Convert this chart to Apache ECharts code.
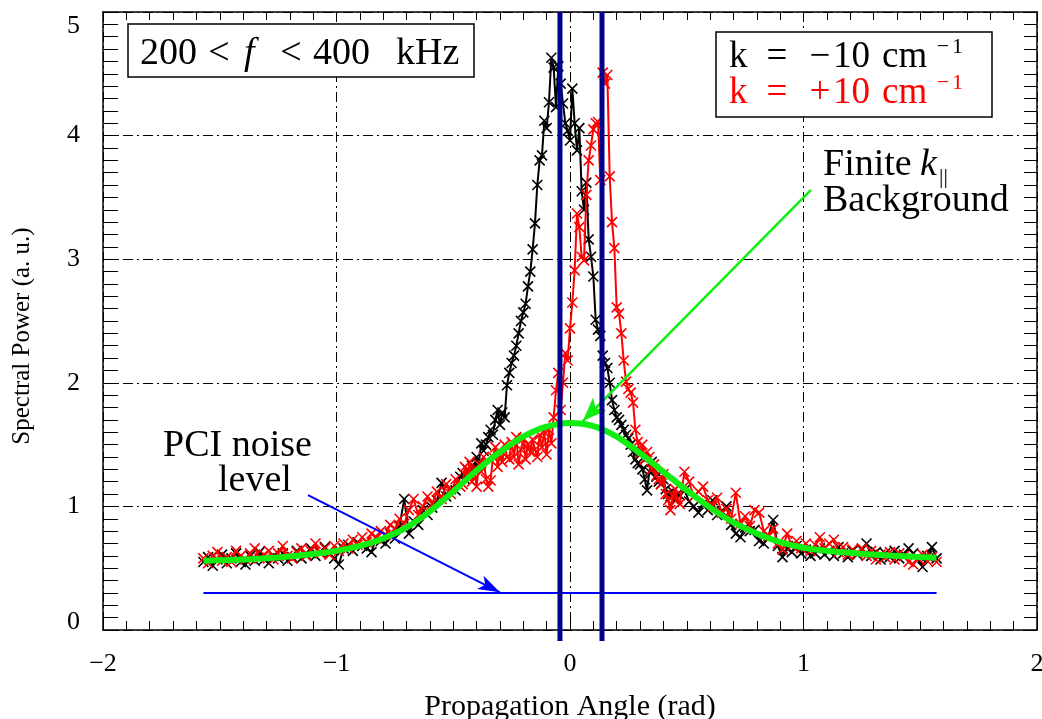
<!DOCTYPE html>
<html>
<head>
<meta charset="utf-8">
<script src="https://cdn.jsdelivr.net/npm/echarts@6/dist/echarts.min.js"></script>
<style>
html, body { margin: 0; padding: 0; background: #fff; }
#chart { width: 1042px; height: 719px; }
</style>
</head>
<body>
<div id="chart"></div>
<script>
// Propagation angle samples (rad), shared by both wavenumber spectra
const angle = [
  -1.57,-1.55,-1.53,-1.51,-1.49,-1.47,-1.45,-1.43,-1.41,-1.39,
  -1.37,-1.35,-1.33,-1.31,-1.29,-1.27,-1.25,-1.23,-1.21,-1.19,
  -1.17,-1.15,-1.13,-1.11,-1.09,-1.07,-1.05,-1.03,-1.01,-0.99,
  -0.97,-0.95,-0.93,-0.91,-0.89,-0.87,-0.85,-0.83,-0.81,-0.79,
  -0.77,-0.75,-0.73,-0.71,-0.69,-0.67,-0.65,-0.63,-0.61,-0.59,
  -0.57,-0.55,-0.53,-0.51,-0.49,-0.47,
  -0.46,-0.45,-0.44,-0.43,-0.42,-0.41,-0.40,-0.39,-0.38,-0.37,
  -0.36,-0.35,-0.34,-0.33,-0.32,-0.31,-0.30,-0.29,-0.28,-0.27,
  -0.26,-0.25,-0.24,-0.23,-0.22,-0.21,-0.20,-0.19,-0.18,-0.17,
  -0.16,-0.15,-0.14,-0.13,-0.12,-0.11,-0.10,-0.09,-0.08,-0.07,
  -0.06,-0.05,-0.04,-0.03,-0.02,-0.01,0.00,0.01,0.02,0.03,
  0.04,0.05,0.06,0.07,0.08,0.09,0.10,0.11,0.12,0.13,
  0.14,0.15,0.16,0.17,0.18,0.19,0.20,0.21,0.22,0.23,
  0.24,0.25,0.26,0.27,0.28,0.29,0.30,0.31,0.32,0.33,
  0.34,0.35,0.36,0.37,0.38,0.39,0.40,0.41,0.42,0.43,
  0.44,0.45,0.46,
  0.47,0.49,0.51,0.53,0.55,0.57,0.59,0.61,0.63,0.65,
  0.67,0.69,0.71,0.73,0.75,0.77,0.79,0.81,0.83,0.85,
  0.87,0.89,0.91,0.93,0.95,0.97,0.99,1.01,1.03,1.05,
  1.07,1.09,1.11,1.13,1.15,1.17,1.19,1.21,1.23,1.25,
  1.27,1.29,1.31,1.33,1.35,1.37,1.39,1.41,1.43,1.45,
  1.47,1.49,1.51,1.53,1.55,1.57
];

// Spectral power, k = -10 cm^-1
const powerKneg = [
  0.55,0.59,0.52,0.57,0.61,0.54,0.58,0.62,0.55,0.53,
  0.60,0.56,0.63,0.57,0.54,0.60,0.58,0.62,0.56,0.59,
  0.64,0.58,0.61,0.66,0.60,0.63,0.67,0.62,0.58,0.53,
  0.66,0.69,0.64,0.71,0.68,0.66,0.63,0.75,0.72,0.70,
  0.78,0.74,0.84,1.06,0.78,0.88,0.85,0.97,0.93,0.99,
  1.05,1.19,1.08,1.14,1.13,1.24,
  1.27,1.22,1.30,1.26,1.33,1.31,1.40,1.36,1.51,1.45,
  1.50,1.56,1.62,1.58,1.70,1.78,1.66,1.76,1.72,1.98,
  2.08,2.16,2.22,2.30,2.40,2.50,2.57,2.64,2.78,2.90,
  3.08,3.29,3.60,3.80,3.84,4.12,4.06,4.27,4.63,4.55,
  4.23,4.56,4.42,4.26,4.10,4.04,3.96,4.38,4.10,3.88,
  4.06,3.55,3.40,3.62,3.16,3.02,2.86,2.51,2.43,2.38,
  2.22,2.16,2.12,2.00,1.86,1.78,1.72,1.70,1.66,1.62,
  1.58,1.55,1.50,1.44,1.38,1.35,1.34,1.30,1.22,1.13,
  1.28,1.36,1.30,1.24,1.20,1.18,1.22,1.14,1.10,1.08,
  1.12,1.05,1.10,
  1.09,1.13,1.04,1.00,0.95,1.02,0.97,1.05,0.93,0.96,
  1.00,0.85,0.78,0.75,0.83,0.80,0.81,0.72,0.70,0.76,
  0.89,0.68,0.59,0.66,0.63,0.68,0.62,0.65,0.60,0.62,
  0.66,0.61,0.64,0.60,0.67,0.62,0.59,0.64,0.61,0.65,
  0.70,0.60,0.63,0.57,0.62,0.59,0.64,0.58,0.61,0.66,
  0.62,0.57,0.51,0.60,0.67,0.58
];

// Spectral power, k = +10 cm^-1
const powerKpos = [
  0.58,0.54,0.60,0.63,0.56,0.59,0.55,0.64,0.60,0.57,
  0.62,0.66,0.58,0.61,0.64,0.57,0.62,0.68,0.60,0.58,
  0.63,0.66,0.60,0.64,0.70,0.62,0.66,0.61,0.68,0.64,
  0.70,0.66,0.73,0.69,0.75,0.71,0.78,0.74,0.80,0.77,
  0.85,0.82,0.90,0.86,0.97,1.06,0.93,1.00,1.08,1.02,
  1.12,1.06,1.18,1.10,1.22,1.16,
  1.18,1.32,1.24,1.36,1.20,1.30,1.16,1.34,1.28,1.40,
  1.22,1.16,1.21,1.40,1.48,1.32,1.42,1.36,1.50,1.40,
  1.38,1.52,1.40,1.56,1.34,1.46,1.55,1.38,1.50,1.44,
  1.54,1.46,1.40,1.58,1.48,1.60,1.42,1.62,1.51,1.72,
  1.94,2.08,1.78,2.00,2.24,2.18,2.44,2.65,2.91,3.37,
  3.26,3.02,2.99,3.52,3.80,3.92,4.05,4.10,4.11,3.64,
  4.51,4.42,4.49,3.67,3.30,3.09,2.61,2.56,2.40,2.18,
  2.01,1.95,1.92,1.84,1.62,1.52,1.43,1.50,1.38,1.44,
  1.40,1.30,1.34,1.25,1.22,1.18,1.26,1.10,1.05,0.97,
  1.08,1.14,1.06,
  1.02,1.28,1.20,1.08,1.12,1.16,1.05,1.00,1.07,0.95,
  0.98,0.90,1.11,0.86,0.92,0.84,0.97,0.95,0.80,0.76,
  0.82,0.70,0.65,0.78,0.68,0.72,0.66,0.70,0.64,0.69,
  0.75,0.66,0.70,0.73,0.63,0.67,0.61,0.65,0.62,0.66,
  0.60,0.64,0.57,0.61,0.59,0.63,0.57,0.62,0.60,0.55,
  0.53,0.58,0.61,0.56,0.59,0.55
];

// Finite k_parallel background level
const bgAngle = [-1.57,-1.5,-1.4,-1.3,-1.2,-1.1,-1.0,-0.9,-0.8,-0.7,-0.6,-0.5,-0.4,-0.3,-0.2,-0.1,
  0,0.1,0.2,0.3,0.4,0.5,0.6,0.7,0.8,0.9,1.0,1.1,1.2,1.3,1.4,1.5,1.57];
const bgPower = [0.56,0.565,0.57,0.58,0.595,0.615,0.64,0.68,0.74,0.83,0.96,1.12,1.29,1.44,1.565,1.645,
  1.675,1.65,1.565,1.43,1.28,1.13,0.99,0.87,0.78,0.71,0.665,0.64,0.625,0.61,0.60,0.59,0.585];

// PCI noise floor
const noiseAngle = [-1.57, 1.57];
const noisePower = [0.30, 0.30];

// Vertical boundary angles
const boundaryAngle = [-0.043, 0.137];

// Annotation arrows: [fromAngle, fromPower, toAngle, toPower]
const bgArrow = [1.032, 3.56, 0.055, 1.69];
const noiseArrow = [-1.122, 1.092, -0.30, 0.305];

const serif = 'Liberation Serif';
const xMark = 'path://M0,0L10,10M10,0L0,10';
const dashDot = [10, 4, 2, 4];

function pairs(xs, ys) { return xs.map((x, i) => [x, ys[i]]); }
const minus = v => String(v).replace('-', '\u2212');

const chart = echarts.init(document.getElementById('chart'), null, { renderer: 'canvas' });

const frameAxis = {
  axisLine: { show: true, onZero: false, lineStyle: { color: '#000', width: 1.5 } },
  axisLabel: { show: false },
  splitLine: { show: false }
};

function txt(text, x, y, size, opts) {
  return Object.assign({
    type: 'text', x: x, y: y, z: 100,
    style: Object.assign({
      text: text, fontFamily: serif, fontSize: size, fill: '#000',
      align: 'left', verticalAlign: 'middle'
    }, (opts && opts.style) || {})
  }, (opts && opts.el) || {});
}

const option = {
  animation: false,
  backgroundColor: '#fff',
  grid: { left: 103, right: 5, top: 12, bottom: 89, outerBoundsMode: 'none', containLabel: false },
  xAxis: [
    {
      type: 'value', min: -2, max: 2, interval: 1, position: 'bottom',
      axisLine: { show: true, onZero: false, lineStyle: { color: '#000', width: 1.5 } },
      axisTick: { show: true, inside: true, length: 9, lineStyle: { color: '#000', width: 1 } },
      minorTick: { show: true, splitNumber: 10, length: 9, lineStyle: { color: '#000', width: 1 } },
      axisLabel: { margin: 21, color: '#000', fontFamily: serif, fontSize: 26, formatter: minus,
        showMinLabel: true, showMaxLabel: true },
      splitLine: { show: true, lineStyle: { color: '#000', width: 1, type: dashDot } },
      name: 'Propagation Angle (rad)', nameLocation: 'middle', nameGap: 62,
      nameTextStyle: { color: '#000', fontFamily: serif, fontSize: 30 }
    },
    Object.assign({
      type: 'value', min: -2, max: 2, interval: 1, position: 'top',
      axisTick: { show: true, inside: true, length: 8, lineStyle: { color: '#000', width: 1 } },
      minorTick: { show: true, splitNumber: 10, length: 8, lineStyle: { color: '#000', width: 1 } }
    }, frameAxis)
  ],
  yAxis: [
    {
      type: 'value', min: 0, max: 5, interval: 1, position: 'left',
      axisLine: { show: true, onZero: false, lineStyle: { color: '#000', width: 1.5 } },
      axisTick: { show: true, inside: true, length: 15, lineStyle: { color: '#000', width: 1 } },
      minorTick: { show: true, splitNumber: 10, length: 15, lineStyle: { color: '#000', width: 1 } },
      axisLabel: {
        margin: 23, color: '#000', fontFamily: serif, fontSize: 26,
        showMinLabel: true, showMaxLabel: true,
        formatter: v => v === 0 ? '{lo|0}' : (v === 5 ? '{hi|5}' : String(v)),
        rich: {
          lo: { fontFamily: serif, fontSize: 26, color: '#000', padding: [0, 0, 16, 0] },
          hi: { fontFamily: serif, fontSize: 26, color: '#000', padding: [29, 0, 0, 0] }
        }
      },
      splitLine: { show: true, lineStyle: { color: '#000', width: 1, type: dashDot } },
      name: 'Spectral Power (a. u.)', nameLocation: 'middle', nameGap: 68, nameRotate: 90,
      nameTextStyle: { color: '#000', fontFamily: serif, fontSize: 25, padding: [0, 30, 0, 0] }
    },
    Object.assign({
      type: 'value', min: 0, max: 5, interval: 1, position: 'right',
      axisTick: { show: true, inside: true, length: 13, lineStyle: { color: '#000', width: 1 } },
      minorTick: { show: true, splitNumber: 10, length: 13, lineStyle: { color: '#000', width: 1 } }
    }, frameAxis)
  ],
  series: [
    {
      name: 'k = -10', type: 'line', data: pairs(angle, powerKneg), z: 3,
      symbol: xMark, symbolSize: 10, showSymbol: true,
      lineStyle: { color: '#000', width: 2 },
      itemStyle: { color: '#000', borderColor: '#000', borderWidth: 1.6 },
      emphasis: { disabled: true }
    },
    {
      name: 'k = +10', type: 'line', data: pairs(angle, powerKpos), z: 4,
      symbol: xMark, symbolSize: 10, showSymbol: true,
      lineStyle: { color: '#ff0000', width: 2 },
      itemStyle: { color: '#ff0000', borderColor: '#ff0000', borderWidth: 1.6 },
      emphasis: { disabled: true }
    },
    {
      name: 'background', type: 'line', data: pairs(bgAngle, bgPower), z: 5,
      smooth: 0.35, symbol: 'none',
      lineStyle: { color: '#11ee11', width: 6 },
      emphasis: { disabled: true },
      markLine: {
        silent: true, symbol: ['none', 'arrow'], symbolSize: [14, 24],
        label: { show: false },
        lineStyle: { color: '#11ee11', width: 2.5, type: 'solid' },
        itemStyle: { color: '#11ee11' },
        data: [[{ coord: [bgArrow[0], bgArrow[1]] }, { coord: [bgArrow[2], bgArrow[3]] }]]
      }
    },
    {
      name: 'noise', type: 'line', data: pairs(noiseAngle, noisePower), z: 6,
      symbol: 'none',
      lineStyle: { color: '#0000ff', width: 2 },
      emphasis: { disabled: true },
      markLine: {
        silent: true, symbol: ['none', 'arrow'], symbolSize: [11, 22],
        label: { show: false },
        lineStyle: { color: '#0000ff', width: 2, type: 'solid' },
        itemStyle: { color: '#0000ff' },
        data: [[{ coord: [noiseArrow[0], noiseArrow[1]] }, { coord: [noiseArrow[2], noiseArrow[3]] }]]
      }
    },
    {
      // boundary angles: full-height bars that run a little past the lower frame
      name: 'boundary', type: 'custom', z: 7, silent: true,
      data: boundaryAngle.map(a => [a, 5]),
      encode: { x: 0, y: 1 },
      renderItem: function (params, api) {
        const top = api.coord([api.value(0), api.value(1)]);
        const bottom = api.coord([api.value(0), 0]);
        return {
          type: 'line',
          shape: { x1: top[0], y1: top[1], x2: bottom[0], y2: bottom[1] + 11 },
          style: { stroke: '#00008c', lineWidth: 5 }
        };
      }
    }
  ],
  graphic: {
    elements: [
      { type: 'rect', z: 90, shape: { x: 128, y: 24, width: 346, height: 53 },
        style: { fill: '#fff', stroke: '#000', lineWidth: 1.5 } },
      txt('200', 140, 54, 38),
      txt('<', 219, 54, 38, { style: { align: 'center' } }),
      txt('f', 244, 54, 38, { style: { fontStyle: 'italic' } }),
      txt('<', 291, 54, 38, { style: { align: 'center' } }),
      txt('400', 313, 54, 38),
      txt('kHz', 396, 54, 38),

      { type: 'rect', z: 90, shape: { x: 716, y: 32, width: 276, height: 85 },
        style: { fill: '#fff', stroke: '#000', lineWidth: 1.5 } },
      txt('k', 729, 57, 37),
      txt('=', 777, 57, 37, { style: { align: 'center' } }),
      txt('\u2212', 820, 57, 37, { style: { align: 'center' } }),
      txt('10', 833, 57, 37),
      txt('cm', 882, 57, 37),
      txt('\u2212', 943, 47, 22, { style: { align: 'center' } }),
      txt('1', 952, 47, 22),
      txt('k', 729, 93, 37, { style: { fill: '#ff0000' } }),
      txt('=', 777, 93, 37, { style: { align: 'center', fill: '#ff0000' } }),
      txt('+', 820, 93, 37, { style: { align: 'center', fill: '#ff0000' } }),
      txt('10', 833, 93, 37, { style: { fill: '#ff0000' } }),
      txt('cm', 882, 93, 37, { style: { fill: '#ff0000' } }),
      txt('\u2212', 943, 83, 22, { style: { align: 'center', fill: '#ff0000' } }),
      txt('1', 952, 83, 22, { style: { fill: '#ff0000' } }),

      txt('Finite', 823, 165, 38),
      txt('k', 920, 165, 38, { style: { fontStyle: 'italic' } }),
      txt('||', 939, 177, 22),
      txt('Background', 823, 201, 38),

      txt('PCI noise', 163, 446, 38),
      txt('level', 218, 481, 38)
    ]
  }
};

chart.setOption(option);
</script>
</body>
</html>
